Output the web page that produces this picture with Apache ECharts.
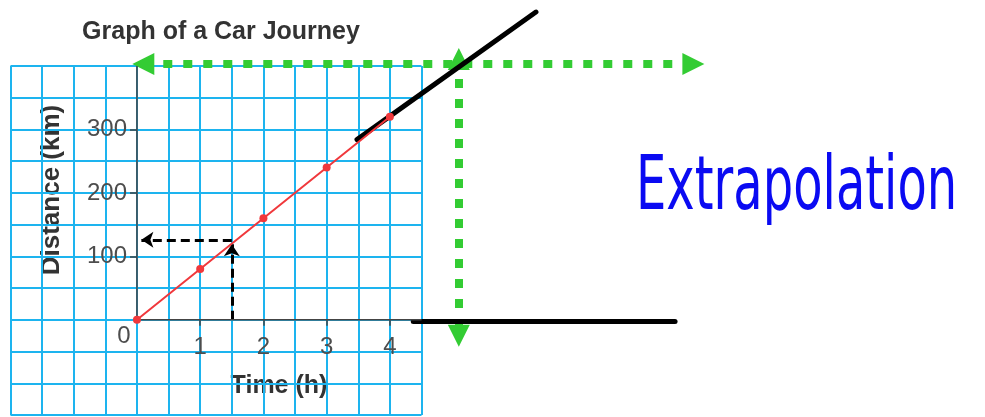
<!DOCTYPE html>
<html>
<head>
<meta charset="utf-8">
<script src="https://cdn.jsdelivr.net/npm/echarts@6/dist/echarts.min.js"></script>
<style>
html, body { margin: 0; padding: 0; background: #fff; }
#chart { width: 985px; height: 417px; }
</style>
</head>
<body>
<div id="chart"></div>
<script>
// journey data (time in h, distance in km)
var hours = [0, 1, 2, 3, 4];
var distances = [0, 80, 160, 240, 320];
var xTickValues = [1, 2, 3, 4];
var yTickValues = [100, 200, 300];

// reading off the graph at 1.5 h
var readUp = [[1.5, 0], [1.5, 119]];
var readLeft = [[1.5, 126], [0.07, 126]];

// drawn-on extrapolation marks
var extrapLine = [[3.48, 284], [6.31, 485]];
var baseLine = [[4.37, -3], [8.51, -3]];
var greenAcross = [[0.1, 403], [8.8, 403]];
var greenDown = [[5.09, 411], [5.09, -25]];
var underline = [[7.44, 109], [8.75, 121], [10.33, 129], [11.65, 134], [13.29, 129]];

// axis segments
var xAxisSeg = [[0, 0], [4.5, 0]];
var yAxisSeg = [[0, 0], [0, 400]];

var FONT = 'Liberation Sans, Arial, sans-serif';
var chart = echarts.init(document.getElementById('chart'));

function pairs(xs, ys) {
    var out = [];
    for (var i = 0; i < xs.length; i++) {
        out.push([xs[i], ys[i]]);
    }
    return out;
}

var redData = pairs(hours, distances);
redData[0] = {
    value: redData[0],
    label: { show: true, formatter: '0', position: 'inside', offset: [-13, 17],
             fontSize: 24, color: '#4d4d4d', fontFamily: FONT }
};

function plainLine(coords, color, width) {
    return {
        type: 'line', data: coords, symbol: 'none', silent: true, clip: false,
        lineStyle: { color: color, width: width }
    };
}

function arrowLine(coords, color, width, dash, symbol, size, bothEnds) {
    return {
        type: 'lines', coordinateSystem: 'cartesian2d', clip: false, silent: true,
        symbol: [bothEnds ? symbol : 'none', symbol], symbolSize: size,
        lineStyle: { color: color, width: width, type: dash, opacity: 1, cap: 'butt' },
        itemStyle: { color: color },
        data: [{ coords: coords }]
    };
}

// grid-paper axes (split lines only) and labelled axes moved onto zero
var gridX = {
    type: 'value', min: -2, max: 4.5, interval: 0.5, position: 'bottom',
    axisLine: { show: false }, axisTick: { show: false }, axisLabel: { show: false },
    splitLine: { show: true, lineStyle: { color: '#1db4ef', width: 2 } }
};
var gridY = {
    type: 'value', min: -150, max: 400, interval: 50, position: 'left',
    axisLine: { show: false }, axisTick: { show: false }, axisLabel: { show: false },
    splitLine: { show: true, lineStyle: { color: '#1db4ef', width: 2 } }
};
var labelX = {
    type: 'value', min: -2, max: 4.5, interval: 0.5, position: 'bottom', offset: -95.2,
    axisLine: { show: true, onZero: false, lineStyle: { color: 'rgba(0,0,0,0)' } },
    axisTick: { show: true, customValues: xTickValues, length: 6,
                lineStyle: { color: '#444', width: 1.5 } },
    axisLabel: { customValues: xTickValues, margin: 16, fontSize: 24,
                 color: '#4d4d4d', fontFamily: FONT },
    splitLine: { show: false }
};
var labelY = {
    type: 'value', min: -150, max: 400, interval: 50, position: 'left', offset: -126.5,
    axisLine: { show: true, onZero: false, lineStyle: { color: 'rgba(0,0,0,0)' } },
    axisTick: { show: true, customValues: yTickValues, length: 7,
                lineStyle: { color: '#444', width: 1.5 } },
    axisLabel: { customValues: yTickValues, margin: 10, fontSize: 24,
                 color: '#4d4d4d', fontFamily: FONT },
    splitLine: { show: false }
};

var option = {
    animation: false,
    title: {
        text: 'Graph of a Car Journey', left: 216, top: 15, textAlign: 'center',
        textStyle: { fontSize: 25, fontWeight: 'bold', color: '#333', fontFamily: FONT }
    },
    grid: { left: 10.5, top: 66, width: 411, height: 349,
            containLabel: false, outerBoundsMode: 'none' },
    xAxis: [gridX, labelX],
    yAxis: [gridY, labelY],
    graphic: [
        {
            type: 'text', x: 52, y: 190, rotation: Math.PI / 2,
            style: { text: 'Distance (km)', font: 'bold 26px ' + FONT, fill: '#333',
                     textAlign: 'center', textVerticalAlign: 'middle' }
        },
        {
            type: 'text', x: 279, y: 386,
            style: { text: 'Time (h)', font: 'bold 25px ' + FONT, fill: '#333',
                     textAlign: 'center', textVerticalAlign: 'middle' }
        },
        {
            type: 'text', x: 636, y: 190, scaleX: 0.64,
            style: { text: 'Extrapolation', font: '75px DejaVu Sans, sans-serif', fill: '#0a0af2',
                     textAlign: 'left', textVerticalAlign: 'middle' }
        }
    ],
    series: [
        plainLine(xAxisSeg, '#444', 1.5),
        plainLine(yAxisSeg, '#444', 1.5),
        {
            type: 'line', data: redData, symbol: 'circle', symbolSize: 8, clip: false,
            silent: true, color: '#f0383c',
            lineStyle: { color: '#f0383c', width: 2 }
        },
        arrowLine(readUp, '#000', 3, [9, 5], 'arrow', [11, 12], false),
        arrowLine(readLeft, '#000', 3, [9, 5], 'arrow', [11, 12], false),
        arrowLine(greenAcross, '#33cc33', 8, [9, 11], 'triangle', [22, 22], true),
        arrowLine(greenDown, '#33cc33', 8, [9, 11], 'triangle', [22, 22], true),
        {
            type: 'lines', coordinateSystem: 'cartesian2d', clip: false, silent: true,
            lineStyle: { color: '#000', width: 5, opacity: 1, cap: 'round' },
            data: [{ coords: extrapLine }, { coords: baseLine }]
        },
        {
            type: 'line', data: underline, symbol: 'none', smooth: true, clip: false, silent: true,
            lineStyle: { color: '#0a0af2', width: 5, cap: 'round' }
        }
    ]
};
chart.setOption(option);
</script>
</body>
</html>
